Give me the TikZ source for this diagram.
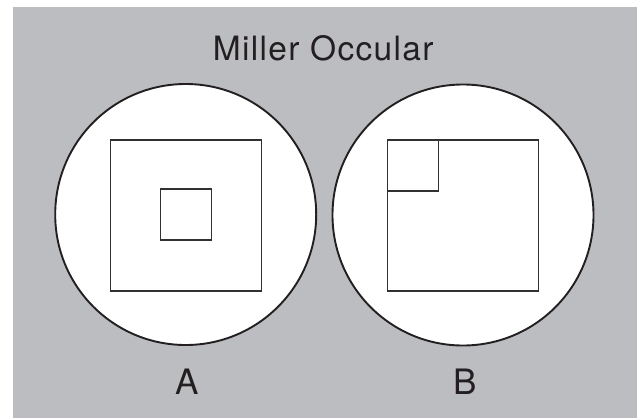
\documentclass[tikz,border=0pt]{standalone}
\usepackage{fontspec}
\setmainfont{TeX Gyre Heros}
\newfontfamily\titlefont[LetterSpace=4]{TeX Gyre Heros}
\definecolor{bggray}{RGB}{188,189,193}
\definecolor{ink}{RGB}{35,31,32}
\definecolor{sqink}{RGB}{50,48,50}
\tikzset{
  lens/.style={circle, draw=ink, fill=white, line width=1.9pt, inner sep=0pt, minimum size=261pt},
  grid/.style={rectangle, draw=sqink, line width=1.1pt, inner sep=0pt},
  lbl/.style={anchor=base, text=ink, inner sep=0pt, font=\fontsize{35}{40}\selectfont},
}
\begin{document}
\begin{tikzpicture}[x=1pt,y=-1pt]
\useasboundingbox (0,0) rectangle (637,418);
\fill[white] (0,0) rectangle (637,418);
\fill[bggray] (13,7) rectangle (637,418);
\node[anchor=base, text=ink, inner sep=0pt, font=\titlefont\fontsize{33.5}{40}\selectfont] (title) at (323.2,60.7) {Miller Occular};
\node[lens] (cA) at (185.7,214.5) {};
\node[lens] (cB) at (463,215) {};
\node[grid, minimum size=151pt] (sqA) at (186,215.5) {};
\node[grid, minimum size=51pt] (smA) at (186,214.5) {};
\node[grid, minimum size=151pt] (sqB) at (463,215.5) {};
\node[grid, minimum size=51pt, anchor=north west] (smB) at (sqB.north west) {};
\node[lbl] (lA) at (186.8,394) {A};
\node[lbl] (lB) at (465.4,394) {B};
\end{tikzpicture}
\end{document}
